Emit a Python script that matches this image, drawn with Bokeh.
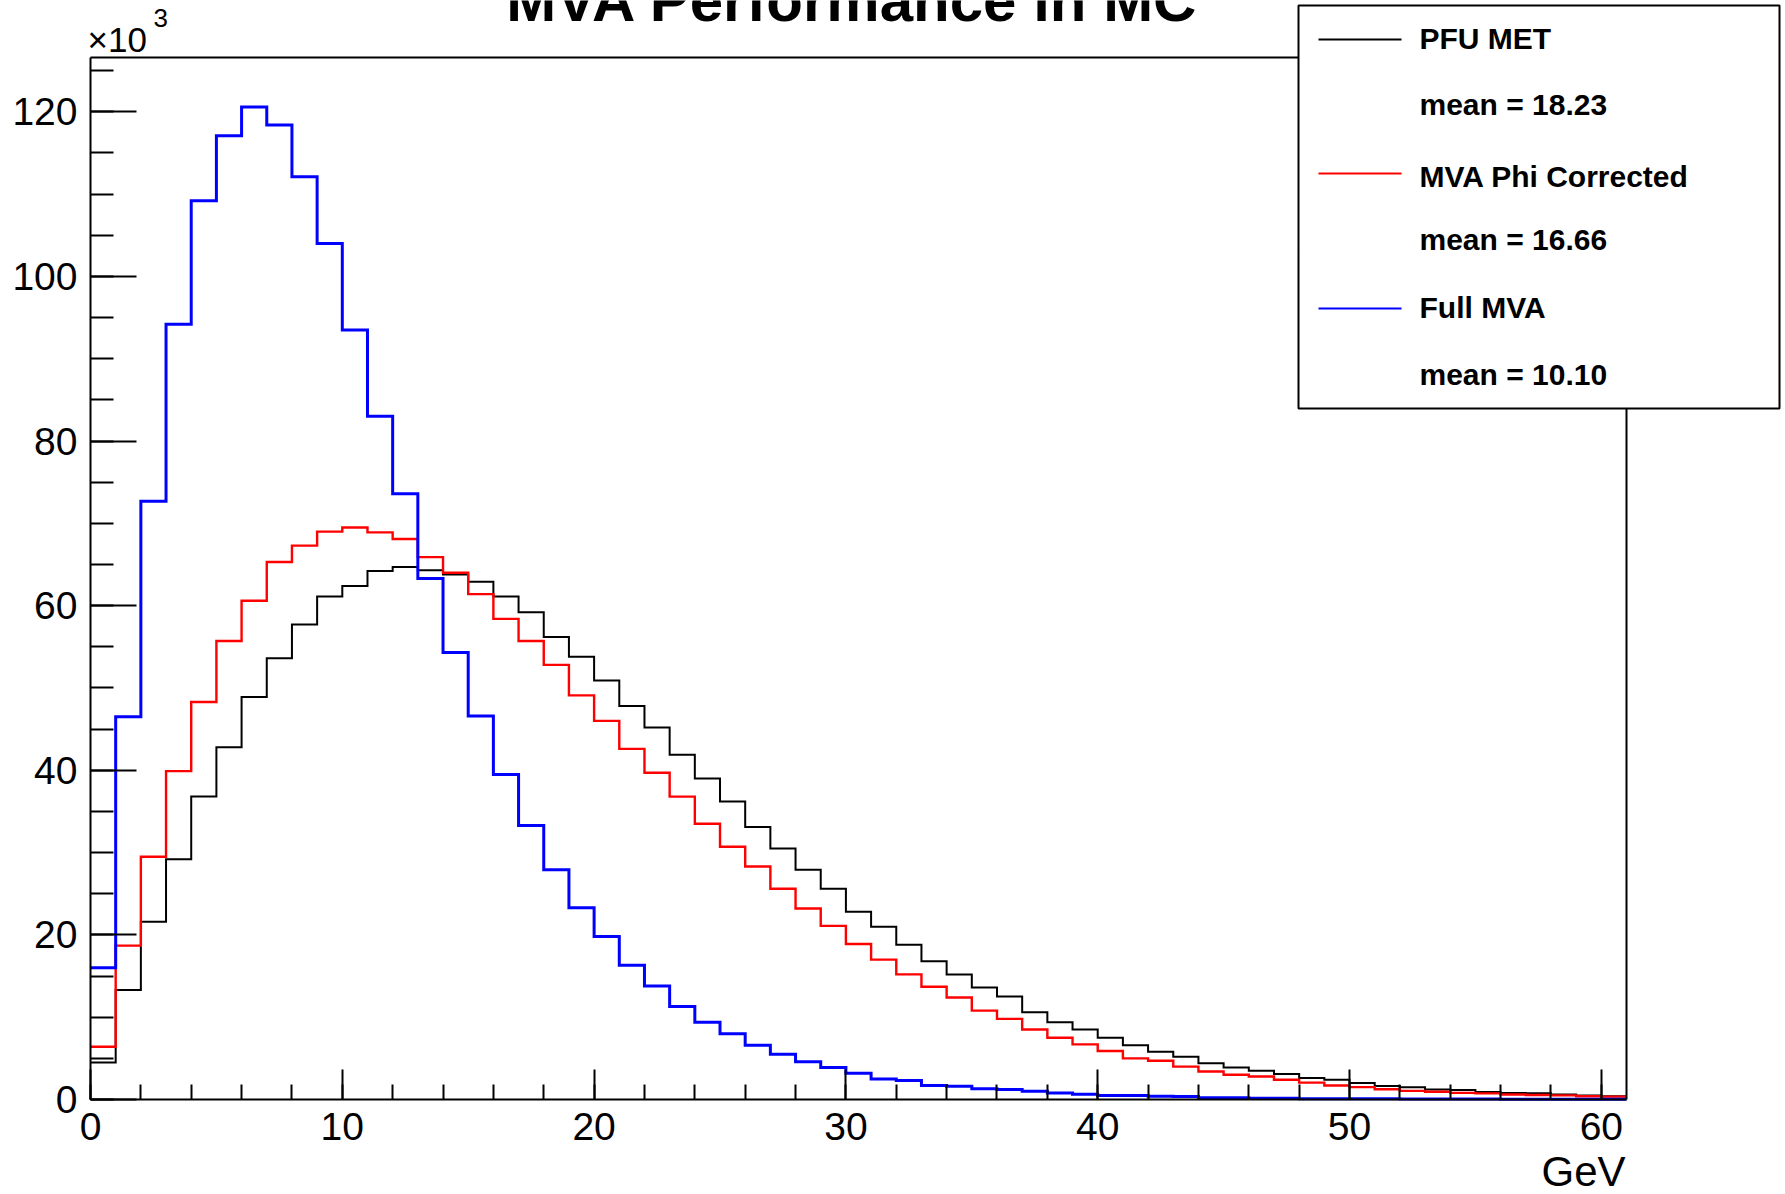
from bokeh.plotting import figure
from bokeh.models import (Range1d, SingleIntervalTicker, LinearAxis, FixedTicker,
                          Label, BoxAnnotation, Arrow)
from bokeh.embed import file_html
from bokeh.resources import INLINE

# ---------------- data (thousands of events per 1 GeV bin) ----------------
bin_edges = list(range(0, 62))  # 0 ... 61 GeV

pfu_met = [4.5, 13.3, 21.6, 29.2, 36.8, 42.8, 48.9, 53.6, 57.7, 61.1,
           62.4, 64.2, 64.7, 64.3, 63.8, 62.9, 61.1, 59.2, 56.2, 53.8,
           50.9, 47.8, 45.2, 41.9, 39.0, 36.2, 33.1, 30.5, 27.9, 25.6,
           22.8, 21.0, 18.8, 16.8, 15.2, 13.6, 12.5, 10.6, 9.4, 8.5,
           7.5, 6.6, 5.8, 5.2, 4.4, 3.9, 3.5, 3.1, 2.6, 2.4,
           2.0, 1.65, 1.5, 1.2, 1.15, 0.9, 0.8, 0.75, 0.6, 0.5, 0.4]

mva_phi = [6.4, 18.7, 29.5, 39.9, 48.3, 55.7, 60.6, 65.3, 67.3, 69.0,
           69.5, 68.9, 68.1, 65.9, 64.0, 61.4, 58.4, 55.7, 52.8, 49.1,
           46.0, 42.6, 39.7, 36.8, 33.5, 30.7, 28.3, 25.6, 23.2, 21.1,
           18.9, 17.0, 15.2, 13.7, 12.4, 10.8, 9.8, 8.5, 7.5, 6.7,
           5.9, 5.0, 4.7, 4.0, 3.4, 3.0, 2.8, 2.4, 2.05, 1.7,
           1.5, 1.25, 1.05, 0.95, 0.8, 0.75, 0.6, 0.55, 0.5, 0.4, 0.35]

full_mva = [16.0, 46.5, 72.7, 94.2, 109.2, 117.1, 120.6, 118.4, 112.1, 104.0,
            93.5, 83.0, 73.6, 63.3, 54.3, 46.6, 39.5, 33.3, 27.9, 23.3,
            19.8, 16.3, 13.8, 11.3, 9.4, 8.0, 6.6, 5.5, 4.6, 3.9,
            3.2, 2.5, 2.3, 1.7, 1.6, 1.3, 1.2, 1.0, 0.8, 0.65,
            0.5, 0.5, 0.4, 0.35, 0.2, 0.2, 0.15, 0.15, 0.1, 0.1,
            0.1, 0.08, 0.07, 0.06, 0.05, 0.05, 0.04, 0.04, 0.03, 0.03, 0.03]

series_names = ["PFU MET", "MVA Phi Corrected", "Full MVA"]
series_means = ["mean = 18.23", "mean = 16.66", "mean = 10.10"]
series_colors = ["#000000", "#ff0000", "#0000ff"]
series_widths = [2.0, 2.4, 3.0]
series_values = [pfu_met, mva_phi, full_mva]

title_text = "MVA Performance in MC"
x_unit_text = "GeV"

# ---------------- layout ----------------
W, H = 1785, 1194
FL, FR, FT, FB = 90, 1626, 57, 1099     # axes box in canvas pixels
XMAX, YMAX = 61, 126.6
FONT = "Liberation Sans"


def px2x(px):
    return (px - FL) / (FR - FL) * XMAX


def px2y(py):
    return (FB - py) / (FB - FT) * YMAX


# the frame fills the whole canvas; the axes are drawn at fixed locations
p = figure(width=W, height=H,
           x_range=Range1d(px2x(0), px2x(W)), y_range=Range1d(px2y(H), px2y(0)),
           output_backend="svg", toolbar_location=None,
           x_axis_location=None, y_axis_location=None,
           min_border=0, min_border_left=0, min_border_right=0,
           min_border_top=0, min_border_bottom=0,
           background_fill_color="white", border_fill_color="white",
           outline_line_color=None)
p.grid.visible = False


def style_axis(ax, tin, mtin, stand):
    ax.major_tick_in = tin
    ax.major_tick_out = 0
    ax.minor_tick_in = mtin
    ax.minor_tick_out = 0
    ax.major_tick_line_width = 2
    ax.minor_tick_line_width = 2
    ax.axis_line_width = 2
    ax.major_tick_line_color = "black"
    ax.minor_tick_line_color = "black"
    ax.axis_line_color = "black"
    ax.major_label_text_font = FONT
    ax.major_label_text_font_size = "39px"
    ax.major_label_text_color = "black"
    ax.major_label_standoff = stand


xaxis = LinearAxis(fixed_location=0, bounds=(0, XMAX),
                   ticker=SingleIntervalTicker(interval=10, num_minor_ticks=5))
style_axis(xaxis, 30, 15, 13)
p.add_layout(xaxis, "below")

yaxis = LinearAxis(fixed_location=0, bounds=(0, YMAX),
                   ticker=SingleIntervalTicker(interval=20, num_minor_ticks=4))
style_axis(yaxis, 46, 23, 13)
p.add_layout(yaxis, "left")

top_ax = LinearAxis(fixed_location=YMAX, bounds=(0, XMAX), ticker=FixedTicker(ticks=[]),
                    axis_line_width=2, axis_line_color="black",
                    major_tick_in=0, major_tick_out=0, minor_tick_in=0, minor_tick_out=0)
p.add_layout(top_ax, "above")
right_ax = LinearAxis(fixed_location=XMAX, bounds=(0, YMAX), ticker=FixedTicker(ticks=[]),
                      axis_line_width=2, axis_line_color="black",
                      major_tick_in=0, major_tick_out=0, minor_tick_in=0, minor_tick_out=0)
p.add_layout(right_ax, "right")

# histograms
for vals, col, lw in zip(series_values, series_colors, series_widths):
    p.step(x=bin_edges, y=vals + [vals[-1]], mode="after",
           line_color=col, line_width=lw, line_join="miter")


def text_label(x_px, baseline_px, text, size, bold=False, align="left"):
    # Bokeh centres the label box on y; shift so the glyph baseline lands on baseline_px
    return Label(x=px2x(x_px), y=px2y(baseline_px - 0.38 * size), text=text,
                 text_font=FONT, text_font_size=f"{size}px",
                 text_font_style="bold" if bold else "normal",
                 text_align=align, text_baseline="alphabetic", text_color="black")


# title (partly cut by the top of the canvas, as in the reference)
p.add_layout(text_label(852, 23, title_text, 60, bold=True, align="center"))

# x10^3 multiplier
p.add_layout(text_label(87, 52, "\u00d710", 35))
p.add_layout(text_label(153, 27, "3", 26))

# x unit label
p.add_layout(text_label(1625, 1187, x_unit_text, 42, align="right"))

# legend box
p.add_layout(BoxAnnotation(left=px2x(1298), right=px2x(1779),
                           top=px2y(5), bottom=px2y(408),
                           fill_color="white", fill_alpha=1.0,
                           line_color="black", line_width=2, line_alpha=1.0,
                           level="annotation"))

line_rows = [39, 173, 308]
name_rows = [49, 187, 318]
mean_rows = [115, 250, 385]
for i in range(3):
    p.add_layout(Arrow(start=None, end=None,
                       x_start=px2x(1318), y_start=px2y(line_rows[i]),
                       x_end=px2x(1401), y_end=px2y(line_rows[i]),
                       line_color=series_colors[i], line_width=2))
    p.add_layout(text_label(1419, name_rows[i], series_names[i], 30, bold=True))
    p.add_layout(text_label(1419, mean_rows[i], series_means[i], 30, bold=True))

open("out.html", "w").write(file_html(p, INLINE))
